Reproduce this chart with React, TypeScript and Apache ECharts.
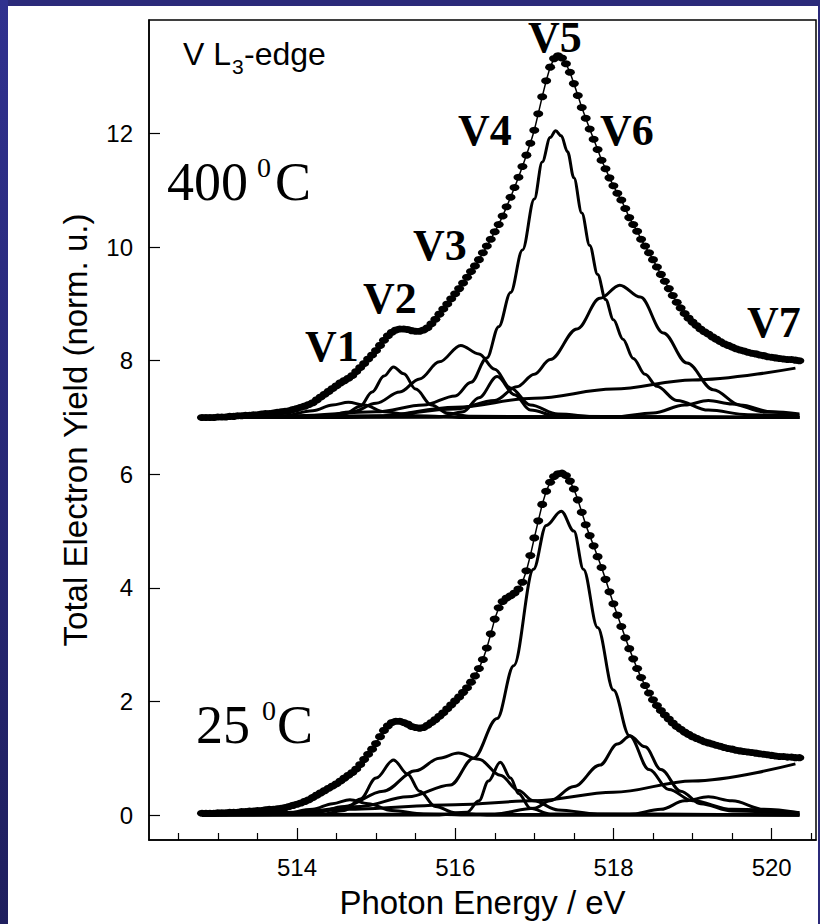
import React, { useEffect, useRef } from 'react';
import * as echarts from 'echarts';

// ---- data ----
const E_START = 512.8;
const E_STEP = 0.05;

// 400 °C measured TEY (offset +7), one value per 0.05 eV from 512.80 eV
const upperDots = [
  7.00, 7.00, 7.00, 7.00, 7.01, 7.01, 7.01, 7.02, 7.02, 7.03,
  7.03, 7.04, 7.04, 7.05, 7.05, 7.06, 7.07, 7.07, 7.08, 7.09,
  7.10, 7.11, 7.12, 7.14, 7.16, 7.18, 7.20, 7.23, 7.26, 7.31,
  7.36, 7.41, 7.46, 7.51, 7.56, 7.61, 7.65, 7.69, 7.74, 7.81,
  7.88, 7.95, 8.03, 8.10, 8.18, 8.27, 8.36, 8.44, 8.50, 8.54,
  8.56, 8.56, 8.55, 8.53, 8.52, 8.52, 8.54, 8.58, 8.65, 8.73,
  8.82, 8.91, 9.00, 9.09, 9.18, 9.27, 9.37, 9.47, 9.57, 9.67,
  9.78, 9.90, 10.02, 10.14, 10.27, 10.40, 10.55, 10.71, 10.88, 11.05,
  11.23, 11.42, 11.62, 11.83, 12.06, 12.35, 12.65, 12.93, 13.17, 13.32,
  13.37, 13.33, 13.23, 13.08, 12.88, 12.67, 12.46, 12.27, 12.08, 11.90,
  11.72, 11.53, 11.38, 11.22, 11.08, 10.95, 10.83, 10.68, 10.52, 10.40,
  10.28, 10.14, 10.02, 9.90, 9.78, 9.65, 9.52, 9.40, 9.27, 9.15,
  9.03, 8.93, 8.83, 8.75, 8.68, 8.62, 8.56, 8.51, 8.47, 8.42,
  8.38, 8.34, 8.30, 8.27, 8.24, 8.21, 8.19, 8.17, 8.15, 8.13,
  8.12, 8.10, 8.09, 8.07, 8.06, 8.05, 8.04, 8.03, 8.02, 8.02,
  8.01, 8.00,
];

// 25 °C measured TEY, one value per 0.05 eV from 512.80 eV
const lowerDots = [
  0.03, 0.03, 0.03, 0.03, 0.04, 0.04, 0.04, 0.05, 0.05, 0.05,
  0.06, 0.06, 0.07, 0.07, 0.08, 0.08, 0.09, 0.10, 0.10, 0.11,
  0.12, 0.13, 0.15, 0.17, 0.19, 0.21, 0.24, 0.27, 0.31, 0.35,
  0.39, 0.43, 0.47, 0.51, 0.55, 0.60, 0.65, 0.70, 0.75, 0.81,
  0.89, 0.98, 1.07, 1.16, 1.26, 1.38, 1.49, 1.57, 1.63, 1.65,
  1.65, 1.63, 1.60, 1.56, 1.54, 1.53, 1.54, 1.58, 1.63, 1.68,
  1.74, 1.80, 1.87, 1.94, 2.01, 2.08, 2.16, 2.24, 2.34, 2.45,
  2.58, 2.74, 2.94, 3.19, 3.45, 3.65, 3.76, 3.82, 3.86, 3.91,
  3.98, 4.10, 4.30, 4.57, 4.88, 5.18, 5.47, 5.70, 5.86, 5.96,
  6.01, 6.02, 5.98, 5.88, 5.74, 5.55, 5.33, 5.11, 4.92, 4.74,
  4.55, 4.36, 4.15, 3.93, 3.72, 3.52, 3.32, 3.12, 2.93, 2.75,
  2.58, 2.42, 2.28, 2.15, 2.03, 1.93, 1.84, 1.76, 1.69, 1.62,
  1.56, 1.51, 1.46, 1.42, 1.38, 1.35, 1.32, 1.29, 1.27, 1.25,
  1.23, 1.21, 1.19, 1.17, 1.16, 1.14, 1.13, 1.12, 1.11, 1.10,
  1.09, 1.08, 1.07, 1.06, 1.05, 1.04, 1.03, 1.03, 1.02, 1.02,
  1.01, 1.01,
];

// fitted components, 400 °C (offset +7)
const upperV1 = [[512.8, 7.0], [513.8, 7.02], [514.2, 7.12], [514.45, 7.22], [514.65, 7.27], [514.85, 7.22], [515.1, 7.1], [515.5, 7.03], [516.2, 7.0], [520.35, 7.0]];
const upperV2 = [[512.8, 7.0], [514.3, 7.01], [514.6, 7.06], [514.8, 7.2], [514.95, 7.45], [515.1, 7.73], [515.22, 7.89], [515.35, 7.77], [515.5, 7.5], [515.7, 7.22], [515.9, 7.08], [516.2, 7.02], [520.35, 7.0]];
const upperV3 = [[512.8, 7.0], [514.3, 7.02], [514.7, 7.1], [515.0, 7.25], [515.3, 7.45], [515.55, 7.68], [515.8, 7.98], [516.07, 8.27], [516.3, 8.12], [516.5, 7.85], [516.7, 7.52], [516.95, 7.22], [517.3, 7.06], [517.8, 7.01], [520.35, 7.0]];
const upperV4 = [[512.8, 7.0], [515.8, 7.01], [516.1, 7.1], [516.3, 7.35], [516.53, 7.72], [516.75, 7.4], [516.95, 7.13], [517.3, 7.02], [520.35, 7.0]];
const upperV5 = [[512.8, 7.0], [514.0, 7.03], [515.0, 7.1], [515.6, 7.22], [516.0, 7.38], [516.2, 7.62], [516.4, 8.05], [516.55, 8.6], [516.7, 9.2], [516.85, 9.95], [517.0, 10.85], [517.1, 11.5], [517.2, 11.93], [517.27, 12.05], [517.34, 11.96], [517.42, 11.68], [517.5, 11.22], [517.6, 10.6], [517.7, 10.03], [517.8, 9.52], [517.9, 9.08], [518.0, 8.72], [518.12, 8.38], [518.25, 8.04], [518.4, 7.76], [518.55, 7.55], [518.8, 7.3], [519.2, 7.13], [519.7, 7.05], [520.35, 7.02]];
const upperV6 = [[512.8, 7.0], [515.0, 7.03], [516.0, 7.15], [516.5, 7.3], [516.78, 7.54], [517.0, 7.76], [517.2, 8.02], [517.54, 8.56], [517.83, 9.1], [518.08, 9.33], [518.34, 9.12], [518.63, 8.49], [518.93, 7.96], [519.26, 7.49], [519.6, 7.22], [520.0, 7.1], [520.35, 7.06]];
const upperV7 = [[512.8, 7.0], [518.0, 7.01], [518.5, 7.08], [518.9, 7.22], [519.2, 7.3], [519.5, 7.24], [519.9, 7.1], [520.35, 7.04]];
const upperStep = [[512.8, 7.0], [514.5, 7.0], [515.0, 7.02], [516.0, 7.18], [517.0, 7.34], [518.0, 7.5], [519.0, 7.66], [520.3, 7.87]];

// fitted components, 25 °C
const lowerV1 = [[512.8, 0.0], [513.8, 0.02], [514.2, 0.1], [514.45, 0.2], [514.67, 0.27], [514.9, 0.2], [515.2, 0.08], [515.6, 0.02], [516.2, 0.0], [520.35, 0.0]];
const lowerV2 = [[512.8, 0.0], [514.3, 0.01], [514.6, 0.08], [514.8, 0.28], [515.0, 0.65], [515.22, 0.97], [515.4, 0.72], [515.55, 0.42], [515.75, 0.15], [516.0, 0.04], [516.4, 0.0], [520.35, 0.0]];
const lowerV3 = [[512.8, 0.0], [514.2, 0.03], [514.6, 0.15], [515.09, 0.42], [515.5, 0.78], [515.8, 1.0], [516.04, 1.09], [516.3, 0.98], [516.57, 0.7], [516.8, 0.43], [516.99, 0.25], [517.3, 0.09], [517.8, 0.02], [520.35, 0.0]];
const lowerV4 = [[512.8, 0.0], [515.8, 0.0], [516.15, 0.05], [516.3, 0.25], [516.42, 0.6], [516.57, 0.93], [516.7, 0.65], [516.8, 0.38], [516.95, 0.12], [517.2, 0.02], [520.35, 0.0]];
const lowerV5 = [[512.8, 0.0], [514.0, 0.05], [514.8, 0.15], [515.4, 0.32], [515.94, 0.53], [516.23, 1.0], [516.53, 1.7], [516.74, 2.63], [516.99, 4.33], [517.15, 5.1], [517.34, 5.35], [517.5, 5.0], [517.62, 4.33], [517.8, 3.3], [518.0, 2.2], [518.2, 1.4], [518.45, 0.8], [518.7, 0.45], [519.0, 0.25], [519.5, 0.1], [520.35, 0.04]];
const lowerV6 = [[512.8, 0.0], [516.5, 0.02], [517.0, 0.12], [517.2, 0.25], [517.5, 0.5], [517.83, 0.88], [518.05, 1.25], [518.21, 1.39], [518.4, 1.2], [518.6, 0.8], [518.85, 0.42], [519.1, 0.2], [519.5, 0.07], [520.35, 0.02]];
const lowerV7 = [[512.8, 0.0], [518.2, 0.01], [518.6, 0.1], [518.9, 0.25], [519.2, 0.32], [519.5, 0.25], [519.9, 0.1], [520.35, 0.04]];
const lowerStep = [[512.8, 0.0], [514.0, 0.02], [514.6, 0.1], [516.0, 0.18], [517.0, 0.25], [518.0, 0.4], [519.0, 0.6], [520.3, 0.9]];

const xMajorTicks = [514, 516, 518, 520];
const xMinorTicks = [512.5, 513, 513.5, 514.5, 515, 515.5, 516.5, 517, 517.5, 518.5, 519, 519.5, 520.5];
const yTicks = [0, 2, 4, 6, 8, 10, 12];

const SANS = '"Liberation Sans", Arial, sans-serif';
const SERIF = '"Liberation Serif", "Times New Roman", serif';

function toPairs(values: number[]) {
  return values.map((v, i) => [Number((E_START + i * E_STEP).toFixed(2)), v]);
}

function label(text: string, x: number, baseline: number, size: number, family: string, bold = false) {
  const k = family === SANS ? 0.345 : 0.338;
  return {
    type: 'text',
    x,
    y: baseline - k * size,
    z: 100,
    style: {
      text,
      fill: '#000',
      fontSize: size,
      fontFamily: family,
      fontWeight: bold ? 'bold' : 'normal',
      align: 'left',
      verticalAlign: 'middle',
    },
  };
}

export default function App() {
  const ref = useRef<HTMLDivElement>(null);

  useEffect(() => {
    if (!ref.current) return;
    const chart = echarts.init(ref.current, null, { renderer: 'svg' });

    const comp = (data: number[][]) => ({
      type: 'line',
      data,
      smooth: 0.35,
      smoothMonotone: 'x',
      showSymbol: false,
      silent: true,
      lineStyle: { color: '#000', width: 3 },
      z: 2,
    });
    const dots = (values: number[]) => ({
      type: 'line',
      data: toPairs(values),
      symbol: 'circle',
      symbolSize: [10, 7],
      showSymbol: true,
      showAllSymbol: true,
      itemStyle: { color: '#000' },
      lineStyle: { color: '#000', width: 1.5 },
      silent: true,
      z: 3,
    });

    const graphics = [
      label('V L', 183, 65, 32, SANS),
      label('3', 232, 74, 21, SANS),
      label('-edge', 244, 65, 32, SANS),
      label('400', 167, 200, 54, SERIF),
      label('0', 257, 177, 28, SERIF),
      label('C', 275, 200, 54, SERIF),
      label('25', 196, 743, 54, SERIF),
      label('0', 262, 720, 28, SERIF),
      label('C', 277, 743, 54, SERIF),
      label('V1', 305, 361, 44, SERIF, true),
      label('V2', 363, 313, 44, SERIF, true),
      label('V3', 413, 260, 44, SERIF, true),
      label('V4', 458, 145, 44, SERIF, true),
      label('V5', 528, 52, 44, SERIF, true),
      label('V6', 600, 145, 44, SERIF, true),
      label('V7', 747, 337, 44, SERIF, true),
    ];

    chart.setOption({
      animation: false,
      backgroundColor: 'transparent',
      grid: {
        left: 149,
        top: 20,
        right: 4,
        bottom: 82,
        show: true,
        borderColor: '#000',
        borderWidth: 1.5,
        backgroundColor: 'transparent',
      },
      xAxis: [
        {
          type: 'value',
          min: 512.13,
          max: 520.56,
          position: 'bottom',
          axisLine: { show: true, onZero: false, lineStyle: { color: '#000', width: 1.5 } },
          axisTick: { show: true, inside: true, length: 12, customValues: xMajorTicks, lineStyle: { color: '#000', width: 1.2 } },
          axisLabel: { show: true, customValues: xMajorTicks, color: '#000', fontSize: 24, fontFamily: SANS, margin: 15 },
          splitLine: { show: false },
          name: 'Photon Energy / eV',
          nameLocation: 'middle',
          nameGap: 46,
          nameTextStyle: { color: '#000', fontSize: 33, fontFamily: SANS },
        },
        {
          type: 'value',
          min: 512.13,
          max: 520.56,
          position: 'bottom',
          axisLine: { show: false, onZero: false },
          axisTick: { show: true, inside: true, length: 7, customValues: xMinorTicks, lineStyle: { color: '#000', width: 1.2 } },
          axisLabel: { show: false },
          splitLine: { show: false },
        },
      ],
      yAxis: {
        type: 'value',
        min: -0.44,
        max: 14,
        axisLine: { show: true, onZero: false, lineStyle: { color: '#000', width: 1.5 } },
        axisTick: { show: true, inside: true, length: 11, customValues: yTicks, lineStyle: { color: '#000', width: 1.2 } },
        axisLabel: { show: true, customValues: yTicks, color: '#000', fontSize: 24, fontFamily: SANS, margin: 16 },
        splitLine: { show: false },
        name: 'Total Electron Yield (norm. u.)',
        nameLocation: 'middle',
        nameRotate: 90,
        nameGap: 57,
        nameTextStyle: { color: '#000', fontSize: 33, fontFamily: SANS },
      },
      series: [
        comp(upperStep), comp(upperV1), comp(upperV2), comp(upperV3), comp(upperV4), comp(upperV5), comp(upperV6), comp(upperV7),
        comp(lowerStep), comp(lowerV1), comp(lowerV2), comp(lowerV3), comp(lowerV4), comp(lowerV5), comp(lowerV6), comp(lowerV7),
        dots(upperDots),
        dots(lowerDots),
      ],
      graphic: graphics,
    });

    return () => chart.dispose();
  }, []);

  return (
    <div style={{ position: 'fixed', left: 0, top: 0, width: 820, height: 924, background: '#2b2a7a', overflow: 'hidden' }}>
      <div style={{ position: 'absolute', left: 0, top: 0, width: 8, height: 924, background: 'linear-gradient(#30318f, #1f1f5e)' }} />
      <div style={{ position: 'absolute', left: 8, top: 6, width: 810, height: 918, background: '#fff' }} />
      <div ref={ref} style={{ position: 'absolute', left: 0, top: 0, width: 820, height: 924 }} />
    </div>
  );
}
